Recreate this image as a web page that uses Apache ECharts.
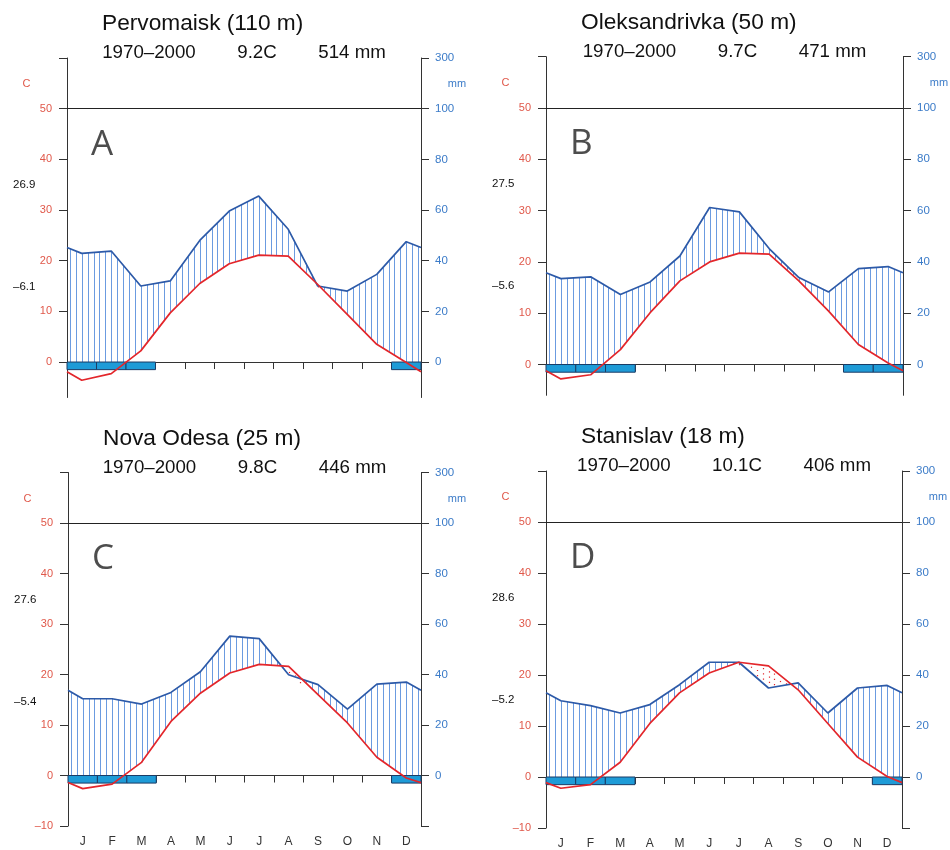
<!DOCTYPE html>
<html><head><meta charset="utf-8">
<script src="https://cdn.jsdelivr.net/npm/echarts@6/dist/echarts.min.js"></script>
<style>html,body{margin:0;padding:0;background:#fff}#c{width:950px;height:850px}</style>
</head><body><div id="c"></div>
<script>
// ---------- data ----------
const months = ['J','F','M','A','M','J','J','A','S','O','N','D'];
const stations = ['Pervomaisk (110 m)','Oleksandrivka (50 m)','Nova Odesa (25 m)','Stanislav (18 m)'];
const panelLetters = ['A','B','C','D'];
const period = '1970–2000';
const meanTemp = ['9.2C','9.7C','9.8C','10.1C'];
const totalPrecip = ['514 mm','471 mm','446 mm','406 mm'];
const absMax = ['26.9','27.5','27.6','28.6'];
const absMin = ['–6.1','–5.6','–5.4','–5.2'];

const tempA = [-3.6,-2.3,2.2,9.7,15.5,19.4,21.1,20.9,15.3,9.4,3.5,-0.1];
const precA = [42.9,43.8,30.0,32.0,48.0,59.6,65.5,52.4,30.0,28.0,34.6,47.5];
const edgeTempA = -1.9, edgePrecA = 45.2;
const frostA = [1,1,1,0,0,0,0,0,0,0,0,1];

const tempB = [-2.8,-2.0,2.9,10.1,16.3,20.0,21.7,21.5,16.3,10.4,3.9,0.3];
const precB = [33.5,34.2,27.3,32.2,42.3,61.2,59.5,45.2,33.9,28.3,37.4,38.2];
const edgeTempB = -1.2, edgePrecB = 35.8;
const frostB = [1,1,1,0,0,0,0,0,0,0,1,1];

const tempC = [-2.6,-1.7,2.6,10.7,16.3,20.3,22.0,21.6,16.0,10.4,3.6,-0.5];
const precC = [30.4,30.4,28.3,32.9,41.1,55.2,54.2,39.9,36.0,26.3,36.2,37.0];
const edgeTempC = -1.4, edgePrecC = 33.8;
const frostC = [1,1,1,0,0,0,0,0,0,0,0,1];

const tempD = [-2.2,-1.5,2.9,10.5,16.5,20.4,22.5,21.8,17.1,10.5,3.9,0.1];
const precD = [29.9,28.0,25.1,28.4,36.2,45.0,45.0,34.9,36.9,25.1,34.9,35.9];
const edgeTempD = -1.1, edgePrecD = 33.0;
const frostD = [1,1,1,0,0,0,0,0,0,0,0,1];

const tempTicks = [-10,0,10,20,30,40,50,60];
const tempLabels = [-10,0,10,20,30,40,50];
const precTicks = [-20,0,20,40,60,80,100,120];
const precLabels = [0,20,40,60,80,100,120];
const precTopLabel = '300';

// ---------- layout / style ----------
const panels = [
  {temp:tempA, prec:precA, et:edgeTempA, ep:edgePrecA, frost:frostA},
  {temp:tempB, prec:precB, et:edgeTempB, ep:edgePrecB, frost:frostB},
  {temp:tempC, prec:precC, et:edgeTempC, ep:edgePrecC, frost:frostC},
  {temp:tempD, prec:precD, et:edgeTempD, ep:edgePrecD, frost:frostD}
];
const layout = [
  {left:67, width:354, top:58, height:339.5, tmin:-7, showMonths:false},
  {left:546, width:357, top:56.7, height:338.6, tmin:-6, showMonths:false},
  {left:68, width:353, top:472.5, height:353.5, tmin:-10, showMonths:true},
  {left:546, width:356, top:471, height:357, tmin:-10, showMonths:true}
];
const FONT = '"Liberation Sans", Arial, Helvetica, sans-serif';
const RED = '#e3262b', BLUE = '#2d5aa8', HATCH = '#6b9be0';
const TLAB = '#e0584a', PLAB = '#3b7bc8', AX = '#333';
const FROST_DEPTH = 1.5;

const grids=[], xAxes=[], yAxes=[], series=[], graphics=[];

function hatchRender(params, api){
  const x0=api.value(0), x1=api.value(1), p0=api.value(2), p1=api.value(3), t0=api.value(4), t1=api.value(5);
  const children=[];
  const step=0.2;
  for (let j=0;j<60;j++){
    const x=0.1+j*step;
    if (x < x0-1e-9) continue;
    if (x >= x1-1e-9) break;
    const f=(x-x0)/(x1-x0);
    const p=(p0+f*(p1-p0))/2;
    const t=t0+f*(t1-t0);
    if (p>t){
      const a=api.coord([x,p]), b=api.coord([x,Math.max(t,0)]);
      const px=Math.round(a[0])+0.5;
      children.push({type:'line',shape:{x1:px,y1:a[1],x2:px,y2:b[1]},style:{stroke:HATCH,lineWidth:1}});
    } else {
      const a=api.coord([x,t]), b=api.coord([x,p]);
      const px=Math.round(a[0])+0.5;
      children.push({type:'line',shape:{x1:px,y1:a[1]+3+(j%2)*2.5,x2:px,y2:b[1]-1},style:{stroke:RED,lineWidth:1.2,lineDash:[1.2,4]}});
    }
  }
  return {type:'group',children};
}
function frostRender(params, api){
  const i=api.value(0);
  const a=api.coord([i,0]), b=api.coord([i+1,-FROST_DEPTH]);
  return {type:'rect',shape:{x:a[0],y:a[1],width:b[0]-a[0],height:b[1]-a[1]},style:{fill:'#1e9bd7',stroke:'#1b3c66',lineWidth:1}};
}

panels.forEach((pd,n)=>{
  const L=layout[n];
  grids.push({left:L.left,top:L.top,width:L.width,height:L.height,containLabel:false,outerBoundsMode:'none'});
  const vx=xAxes.length;
  xAxes.push({gridIndex:n,type:'value',min:0,max:12,interval:1,
    axisLine:{show:true,onZero:true,lineStyle:{color:AX,width:1}},
    axisTick:{show:true,length:7,lineStyle:{color:AX,width:1}},
    axisLabel:{show:false},splitLine:{show:false}});
  xAxes.push({gridIndex:n,type:'category',data:months,position:'bottom',boundaryGap:true,
    axisLine:{show:false,onZero:false},axisTick:{show:false},splitLine:{show:false},
    axisLabel:{show:L.showMonths,interval:0,margin:10,color:'#333',fontSize:12,fontFamily:FONT}});
  const tY=yAxes.length;
  const tt=tempTicks.filter(v=>v>=L.tmin), tl=tempLabels.filter(v=>v>=L.tmin);
  const pt=precTicks.filter(v=>v>=2*L.tmin), pl=precLabels;
  yAxes.push({gridIndex:n,type:'value',position:'left',min:L.tmin,max:60,
    axisLine:{show:true,lineStyle:{color:AX,width:1}},
    axisTick:{show:true,length:8,customValues:tt,lineStyle:{color:AX,width:1}},
    axisLabel:{show:true,customValues:tl,margin:15,color:TLAB,fontSize:11,fontFamily:FONT,
      formatter:v=>v<0?'–'+(-v):String(v)},
    splitLine:{show:false}});
  yAxes.push({gridIndex:n,type:'value',position:'right',min:2*L.tmin,max:120,
    axisLine:{show:true,lineStyle:{color:AX,width:1}},
    axisTick:{show:true,length:8,customValues:pt,lineStyle:{color:AX,width:1}},
    axisLabel:{show:true,customValues:pl,margin:14,color:PLAB,fontSize:11.5,fontFamily:FONT,
      formatter:v=>v===120?precTopLabel:String(v)},
    splitLine:{show:false}});

  const xs=[0].concat(months.map((m,i)=>i+0.5)).concat([12]);
  const T=[pd.et].concat(pd.temp).concat([pd.et]);
  const P=[pd.ep].concat(pd.prec).concat([pd.ep]);
  const segs=[];
  for(let k=0;k<xs.length-1;k++) segs.push([xs[k],xs[k+1],P[k],P[k+1],T[k],T[k+1]]);
  series.push({type:'custom',xAxisIndex:vx,yAxisIndex:tY,renderItem:hatchRender,data:segs,z:1,silent:true,
    encode:{x:0,y:4},clip:false});
  series.push({type:'custom',xAxisIndex:vx,yAxisIndex:tY,renderItem:frostRender,z:3,silent:true,
    data:pd.frost.map((f,i)=>f?[i,0]:null).filter(d=>d),encode:{x:0,y:1}});
  series.push({type:'line',xAxisIndex:vx,yAxisIndex:tY+1,data:xs.map((x,k)=>[x,P[k]]),
    symbol:'none',lineStyle:{color:BLUE,width:1.7},z:4,silent:true,animation:false});
  series.push({type:'line',xAxisIndex:vx,yAxisIndex:tY,data:xs.map((x,k)=>[x,T[k]]),
    symbol:'none',lineStyle:{color:RED,width:1.7},z:5,silent:true,animation:false,
    markLine:{silent:true,symbol:'none',label:{show:false},lineStyle:{color:'#222',width:1,type:'solid'},
      data:[{yAxis:50}],animation:false}});

  const top=L.top, left=L.left, right=L.left+L.width;
  graphics.push({type:'text',x:left+35,y:top-34,style:{text:stations[n],font:'22.7px '+FONT,fill:'#111',verticalAlign:'middle',align:'left'}});
  graphics.push({type:'text',x:left+L.width/2,y:top-5,style:{text:period+'        '+meanTemp[n]+'        '+totalPrecip[n],font:'18.7px '+FONT,fill:'#111',verticalAlign:'middle',align:'center'}});
  graphics.push({type:'text',x:left+24,y:top+87,style:{text:panelLetters[n],font:'35px "Open Sans", sans-serif',fill:'#4d4d4d',verticalAlign:'middle',align:'left'}});
  graphics.push({type:'text',x:left-40.5,y:top+26,style:{text:'C',font:'11px '+FONT,fill:TLAB,verticalAlign:'middle',align:'center'}});
  graphics.push({type:'text',x:right+36,y:top+26,style:{text:'mm',font:'11px '+FONT,fill:PLAB,verticalAlign:'middle',align:'center'}});
  graphics.push({type:'text',x:left-54,y:top+127,style:{text:absMax[n],font:'11.5px '+FONT,fill:'#111',verticalAlign:'middle',align:'left'}});
  graphics.push({type:'text',x:left-54,y:top+229,style:{text:absMin[n],font:'11.5px '+FONT,fill:'#111',verticalAlign:'middle',align:'left'}});
});

const chart=echarts.init(document.getElementById('c'),null,{renderer:'canvas'});
chart.setOption({backgroundColor:'#fff',animation:false,grid:grids,xAxis:xAxes,yAxis:yAxes,series:series,graphic:graphics});
</script></body></html>
